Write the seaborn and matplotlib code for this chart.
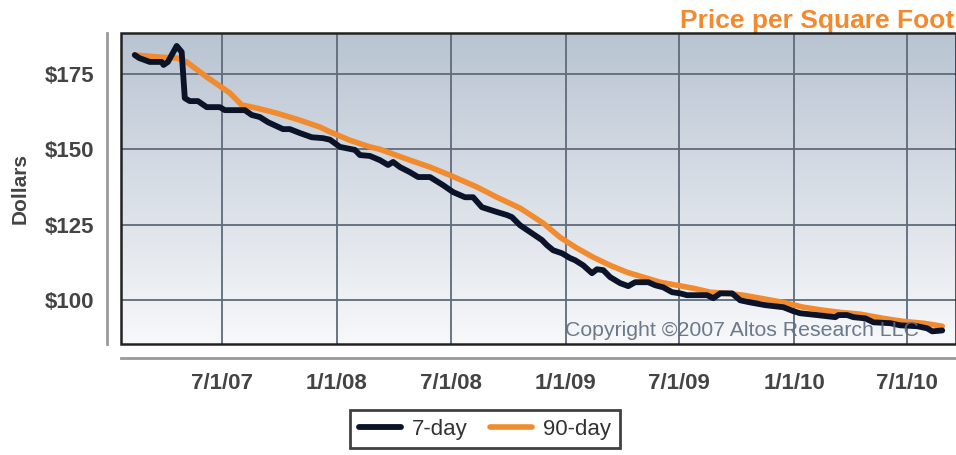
import pandas as pd
import seaborn as sns
import matplotlib.pyplot as plt
import numpy as np
from matplotlib.colors import LinearSegmentedColormap
from matplotlib.patches import Rectangle

# 7-day price per square foot
dates_7 = ['2007-02-12', '2007-02-19', '2007-03-08', '2007-03-27', '2007-03-30',
           '2007-04-06', '2007-04-20', '2007-04-28', '2007-05-03', '2007-05-11',
           '2007-05-24', '2007-06-07', '2007-06-28', '2007-07-06', '2007-08-07',
           '2007-08-18', '2007-08-31', '2007-09-13', '2007-10-07', '2007-10-18',
           '2007-11-03', '2007-11-22', '2007-12-10', '2007-12-21', '2008-01-06',
           '2008-01-30', '2008-02-07', '2008-02-23', '2008-03-10', '2008-03-23',
           '2008-03-31', '2008-04-11', '2008-04-27', '2008-05-10', '2008-05-29',
           '2008-06-19', '2008-07-05', '2008-07-24', '2008-08-06', '2008-08-20',
           '2008-09-13', '2008-09-29', '2008-10-07', '2008-10-20', '2008-11-24',
           '2008-12-02', '2008-12-12', '2008-12-26', '2009-01-08', '2009-01-16',
           '2009-01-29', '2009-02-12', '2009-02-20', '2009-03-02', '2009-03-13',
           '2009-03-29', '2009-04-11', '2009-04-22', '2009-05-13', '2009-05-24',
           '2009-06-06', '2009-06-20', '2009-07-03', '2009-07-14', '2009-08-15',
           '2009-08-25', '2009-09-05', '2009-09-24', '2009-10-07', '2009-10-23',
           '2009-11-16', '2009-12-15', '2009-12-31', '2010-01-11', '2010-02-07',
           '2010-03-08', '2010-03-13', '2010-03-27', '2010-04-06', '2010-04-25',
           '2010-05-08', '2010-06-04', '2010-06-20', '2010-07-17', '2010-08-02',
           '2010-08-10', '2010-08-26']
price_7 = [181.3, 180.3, 179.0, 179.0, 178.0,
           179.0, 184.3, 182.3, 167.0, 166.0,
           166.0, 164.0, 164.0, 163.0, 163.0,
           161.4, 160.7, 159.0, 156.7, 156.7,
           155.4, 154.0, 153.7, 153.2, 150.8,
           149.8, 148.1, 147.8, 146.4, 144.8,
           145.8, 144.1, 142.4, 140.8, 140.8,
           138.1, 135.8, 134.1, 134.1, 130.8,
           129.2, 128.2, 127.5, 124.8, 119.9,
           118.2, 116.5, 115.5, 113.9, 113.2,
           111.5, 108.9, 110.2, 109.9, 107.6,
           105.6, 104.6, 105.9, 105.9, 104.9,
           104.2, 102.6, 102.2, 101.6, 101.6,
           100.6, 102.2, 102.2, 99.9, 99.2,
           98.3, 97.6, 96.3, 95.6, 95.0,
           94.3, 95.0, 95.0, 94.3, 93.9,
           92.6, 92.3, 91.6, 91.3, 90.6,
           89.6, 89.9]

# 90-day price per square foot
dates_90 = ['2007-02-12', '2007-03-24', '2007-04-20', '2007-05-06', '2007-06-07',
            '2007-07-14', '2007-08-02', '2007-08-26', '2007-09-27', '2007-10-29',
            '2007-12-05', '2007-12-21', '2008-01-22', '2008-02-23', '2008-03-10',
            '2008-04-27', '2008-05-29', '2008-06-30', '2008-08-12', '2008-09-13',
            '2008-10-20', '2008-11-26', '2008-12-23', '2009-01-19', '2009-02-14',
            '2009-03-13', '2009-04-09', '2009-05-05', '2009-06-01', '2009-06-28',
            '2009-07-24', '2009-08-20', '2009-09-16', '2009-10-12', '2009-11-08',
            '2009-12-15', '2010-01-16', '2010-02-17', '2010-03-16', '2010-04-17',
            '2010-05-24', '2010-06-25', '2010-07-27', '2010-08-26']
price_90 = [181.3, 180.6, 180.3, 179.0, 174.0,
            168.7, 164.7, 163.7, 162.0, 160.0,
            157.4, 155.8, 153.0, 150.8, 150.0,
            146.4, 144.1, 141.4, 137.5, 134.1,
            130.5, 125.5, 120.8, 117.2, 114.2,
            111.5, 109.2, 107.6, 105.9, 104.9,
            103.9, 102.6, 102.2, 101.6, 100.6,
            99.2, 97.6, 96.6, 95.9, 95.3,
            93.9, 92.9, 92.3, 91.3]

tick_dates = ['2007-07-01', '2008-01-01', '2008-07-01', '2009-01-01',
              '2009-07-01', '2010-01-01', '2010-07-01']
tick_labels = ['7/1/07', '1/1/08', '7/1/08', '1/1/09', '7/1/09', '1/1/10', '7/1/10']
y_ticks = [100, 125, 150, 175]

df7 = pd.DataFrame({'date': pd.to_datetime(dates_7), 'price': price_7})
df90 = pd.DataFrame({'date': pd.to_datetime(dates_90), 'price': price_90})

sns.set_style('white')
plt.rcParams['font.family'] = ['Liberation Sans', 'DejaVu Sans']

fig = plt.figure(figsize=(9.56, 4.55), dpi=100)
ax = fig.add_axes([121 / 956, 1 - 344 / 455, 835 / 956, 311 / 455])

# gradient background
grad = LinearSegmentedColormap.from_list('bg', ['#f7f8fa', '#b9c4d2'])
ax.imshow(np.linspace(0, 1, 256).reshape(-1, 1), cmap=grad, origin='lower',
          extent=[0, 1, 0, 1], transform=ax.transAxes, aspect='auto', zorder=0)

sns.lineplot(data=df7, x='date', y='price', ax=ax, color='#0b1328', lw=4.2,
             label='7-day', zorder=4)
sns.lineplot(data=df90, x='date', y='price', ax=ax, color='#f28a2e', lw=4.0,
             label='90-day', zorder=3)

ax.set_xlim(pd.Timestamp('2007-01-21'), pd.Timestamp('2010-09-17'))
ax.set_ylim(85.4, 188.6)
ax.set_xticks(pd.to_datetime(tick_dates))
ax.set_xticklabels(tick_labels)
ax.set_yticks(y_ticks)
ax.set_yticklabels(['$%d' % v for v in y_ticks])

ax.grid(True, color='#5f6b7b', lw=1.3)
ax.set_axisbelow(True)

# outward spines as separate scales
for s in ['top', 'right']:
    ax.spines[s].set_visible(False)
for s in ['left', 'bottom']:
    ax.spines[s].set_position(('outward', 10))
    ax.spines[s].set_color('#999999')
    ax.spines[s].set_linewidth(2)
ax.tick_params(axis='both', colors='#999999', width=2, length=5, direction='out')
ax.tick_params(axis='y', labelcolor='#444444', labelsize=16, pad=4)
ax.tick_params(axis='x', labelcolor='#444444', labelsize=16, pad=6)
for lab in ax.get_xticklabels() + ax.get_yticklabels():
    lab.set_fontweight('bold')

# plot box border
ax.add_patch(Rectangle((0, 0), 1, 1, transform=ax.transAxes, fill=False,
                       edgecolor='#222222', lw=1.8, zorder=5, clip_on=False))

ax.set_xlabel('')
ax.set_ylabel('Dollars', fontsize=15, fontweight='bold', color='#444444', labelpad=11)

ax.text(0.998, 1.017, 'Price per Square Foot', transform=ax.transAxes, ha='right',
        va='baseline', fontsize=19, fontweight='bold', color='#f28a2e')
ax.text(0.955, 0.012, 'Copyright \u00a92007 Altos Research LLC', transform=ax.transAxes,
        ha='right', va='bottom', fontsize=15.3, color='#5d6c7e', alpha=0.9, zorder=6)

ax.get_legend().remove()
h, l = ax.get_legend_handles_labels()
leg = fig.legend(h, l, loc='center', bbox_to_anchor=(485 / 956, 1 - 429 / 455), ncol=2,
                 frameon=True, fancybox=False, fontsize=16, handlelength=1.9,
                 columnspacing=1.0, handletextpad=0.5, borderpad=0.4)
leg.get_frame().set_edgecolor('#111111')
leg.get_frame().set_linewidth(2)
for t in leg.get_texts():
    t.set_color('#333333')

fig.savefig('out.png', dpi=100)
